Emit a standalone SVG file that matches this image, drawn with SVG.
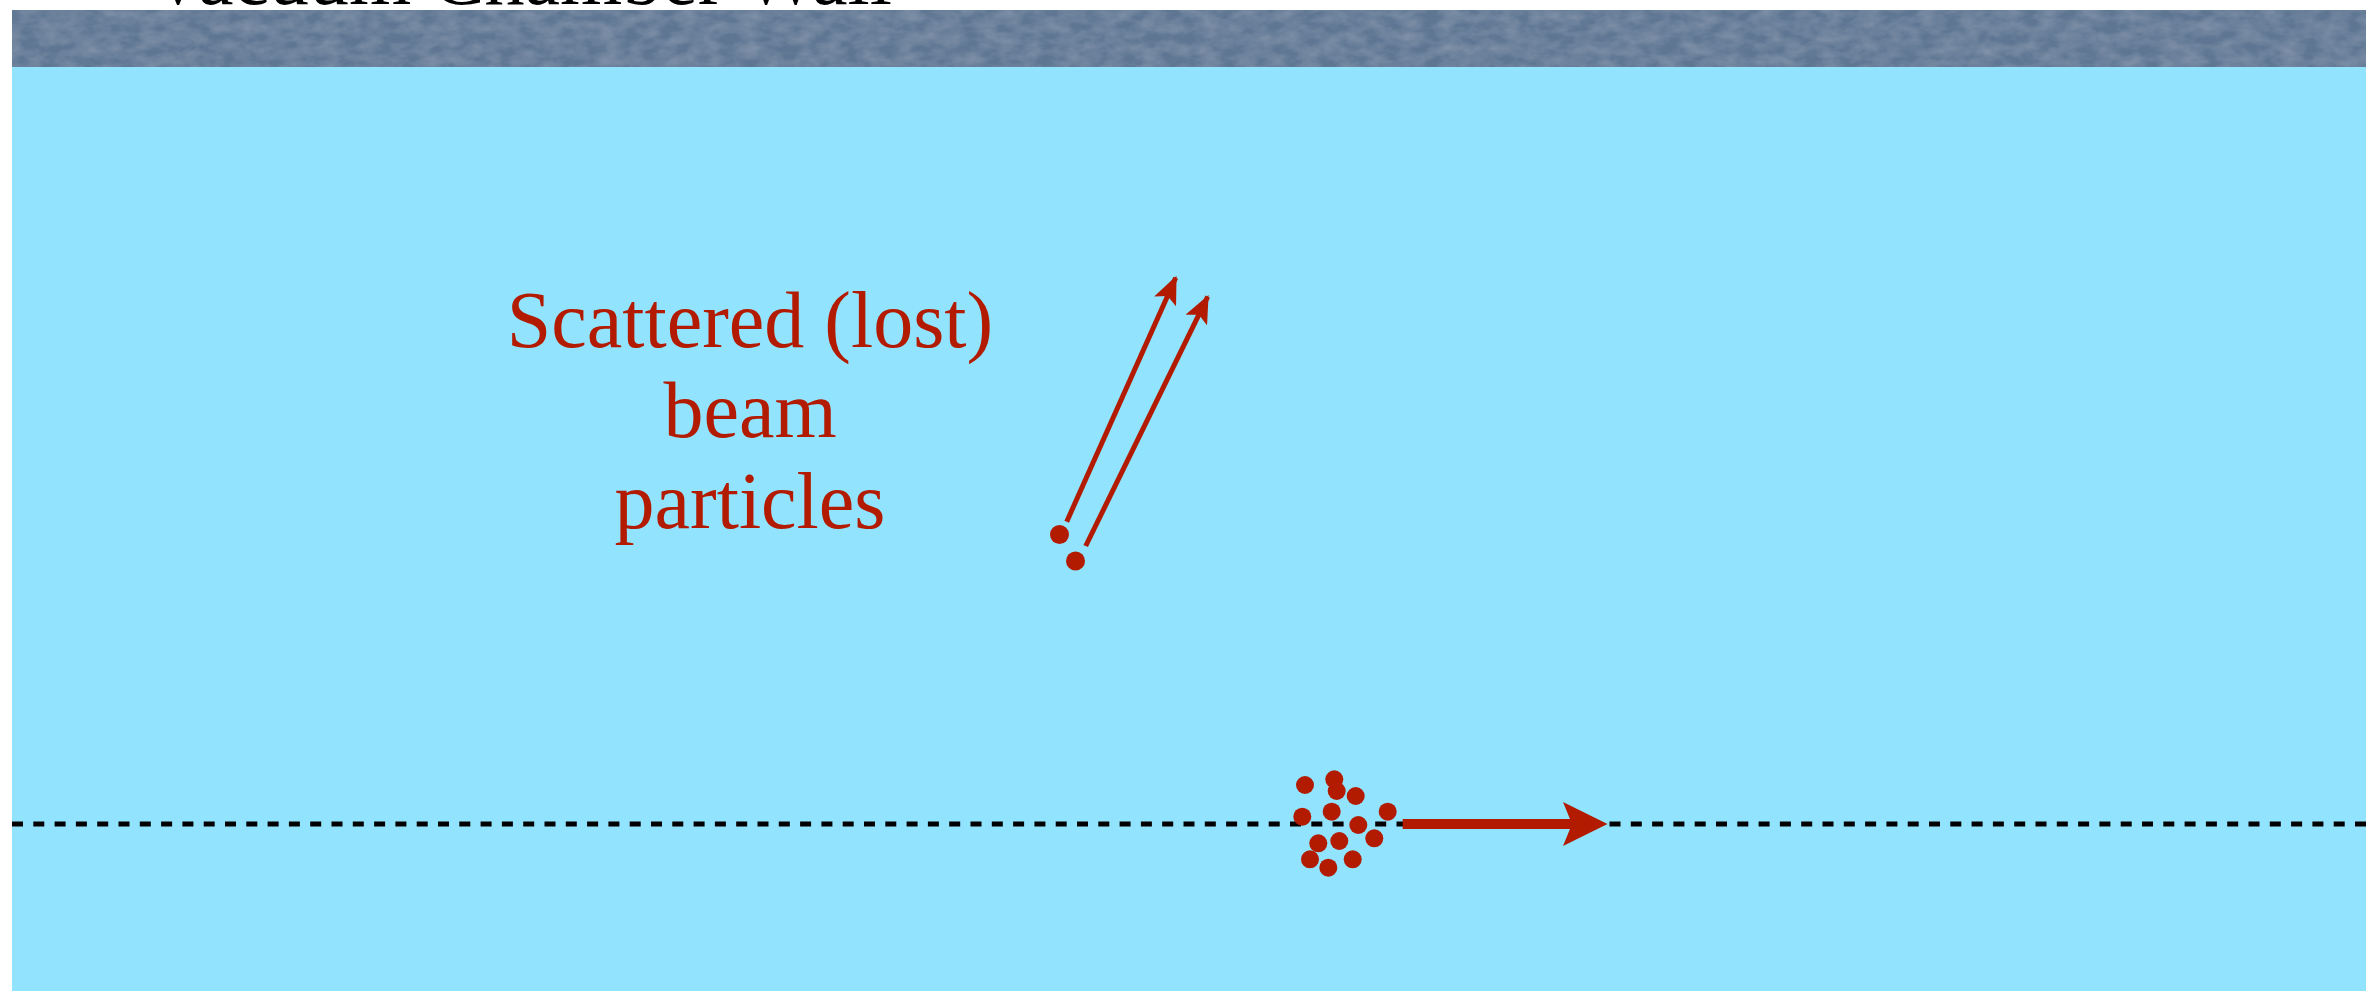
<svg xmlns="http://www.w3.org/2000/svg" width="2372" height="991" viewBox="0 0 2372 991">
  <style>
    .label { font-family: "Liberation Serif", "Times New Roman", serif; font-size: 80px; fill: #b31b00; text-anchor: middle; }
    .title { font-family: "Liberation Serif", "Times New Roman", serif; font-size: 80px; fill: #000; }
    .particle { fill: #b31b00; }
    .track { stroke: #b31b00; stroke-width: 5; fill: none; }
  </style>
  <defs>
    <!-- soft mottled stone finish for the wall band -->
    <filter id="grain" x="0" y="0" width="100%" height="100%">
      <feTurbulence type="fractalNoise" baseFrequency="0.05 0.09" numOctaves="3" seed="7" result="n"/>
      <feColorMatrix in="n" type="matrix" values="0 0 0 0 0.6  0 0 0 0 0.68  0 0 0 0 0.78  0 0 0 0.32 -0.09" result="w"/>
      <feComposite in="w" in2="SourceGraphic" operator="atop"/>
    </filter>
    <marker id="scatterHead" viewBox="0 0 28 24" refX="26" refY="12" markerWidth="28" markerHeight="24" markerUnits="userSpaceOnUse" orient="auto">
      <path d="M0,0 L28,12 L0,24 L6,12 Z" fill="#b31b00"/>
    </marker>
  </defs>

  <rect width="2372" height="991" fill="#ffffff"/>

  <!-- beam pipe interior -->
  <g id="chamber">
    <rect x="12" y="66" width="2354" height="925" fill="#92e3fd"/>
  </g>

  <!-- chamber wall band -->
  <g id="wall">
    <rect x="12" y="10" width="2354" height="57" fill="#5e7693" filter="url(#grain)"/>
    <text class="title" x="149" y="4">Vacuum Chamber Wall</text>
  </g>

  <!-- nominal beam axis -->
  <g id="axis">
    <line x1="12" y1="824" x2="2366" y2="824" stroke="#000" stroke-width="5" stroke-dasharray="11 10.3"/>
  </g>

  <!-- label -->
  <g id="scatter-label">
    <text class="label" x="750" y="347">Scattered (lost)</text>
    <text class="label" x="750" y="437">beam</text>
    <text class="label" x="750" y="528">particles</text>
  </g>

  <!-- scattered particles -->
  <g id="scattered">
    <circle class="particle" cx="1059.5" cy="534.5" r="9.5"/>
    <circle class="particle" cx="1075.5" cy="561" r="9.5"/>
  </g>

  <!-- bunch -->
  <g id="bunch">
    <circle class="particle" cx="1305" cy="785" r="9"/>
    <circle class="particle" cx="1334.3" cy="779.3" r="9"/>
    <circle class="particle" cx="1336.7" cy="791" r="9"/>
    <circle class="particle" cx="1355.7" cy="796" r="9"/>
    <circle class="particle" cx="1302.3" cy="816.7" r="9"/>
    <circle class="particle" cx="1331.7" cy="811.7" r="9"/>
    <circle class="particle" cx="1387.7" cy="811.7" r="9"/>
    <circle class="particle" cx="1358.3" cy="825" r="9"/>
    <circle class="particle" cx="1374.3" cy="838.3" r="9"/>
    <circle class="particle" cx="1318.3" cy="843.3" r="9"/>
    <circle class="particle" cx="1339.3" cy="841" r="9"/>
    <circle class="particle" cx="1310" cy="859.3" r="9"/>
    <circle class="particle" cx="1352.7" cy="859.3" r="9"/>
    <circle class="particle" cx="1328.3" cy="867.7" r="9"/>
  </g>

  <!-- connectors -->
  <g id="connectors">
    <line class="track" x1="1066.7" y1="521.7" x2="1175.7" y2="277.7" marker-end="url(#scatterHead)"/>
    <line class="track" x1="1085.7" y1="546" x2="1207.7" y2="296.7" marker-end="url(#scatterHead)"/>
    <line x1="1402.7" y1="824" x2="1575" y2="824" stroke="#b31b00" stroke-width="10"/>
    <path d="M1607.5,824 L1563,802 L1572,824 L1563,846 Z" fill="#b31b00"/>
  </g>
</svg>
